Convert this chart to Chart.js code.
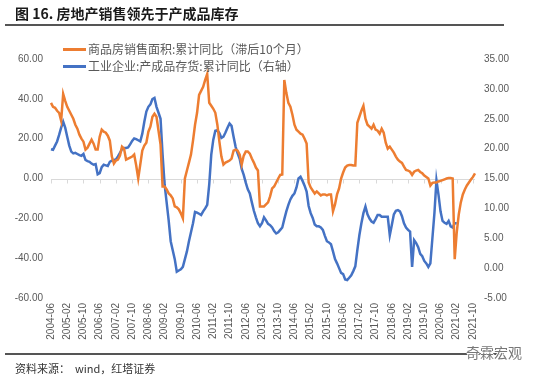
<!DOCTYPE html>
<html>
<head>
<meta charset="utf-8">
<script src="https://cdn.jsdelivr.net/npm/chart.js@4.4.0/dist/chart.umd.min.js"></script>
<style>
  body { margin: 0; background: #fff; }
  #box { position: relative; width: 536px; height: 376px; overflow: hidden; font-family: "Noto Sans CJK SC", "DejaVu Sans", sans-serif; }
  #c { position: absolute; left: 0; top: 0; }
  .title { position: absolute; left: 15px; top: 3px; font-size: 14px; line-height: 20px; font-weight: bold; color: #1a1a1a; white-space: nowrap; }
  .rule { position: absolute; left: 5px; width: 499px; height: 1.5px; background: #555; }
  .leg { position: absolute; left: 63px; font-size: 12px; line-height: 16px; color: #595959; white-space: nowrap; }
  .leg i { display: inline-block; width: 23px; height: 3px; vertical-align: middle; margin-right: 2px; margin-top: -2px; }
  .src { position: absolute; left: 15px; top: 360px; font-size: 11px; line-height: 16px; color: #333; white-space: nowrap; }
  .mark { position: absolute; left: 466px; top: 343px; font-size: 14px; line-height: 18px; color: #777; white-space: nowrap;
          text-shadow: 1px 0 #fff, -1px 0 #fff, 0 1px #fff, 0 -1px #fff; }
</style>
</head>
<body>
<div id="box">
  <canvas id="c" width="536" height="376"></canvas>
  <div class="title">图 16. 房地产销售领先于产成品库存</div>
  <div class="rule" style="top:24px"></div>
  <div class="leg" style="top:41px"><i style="background:#ED7D31"></i>商品房销售面积:累计同比（滞后10个月）</div>
  <div class="leg" style="top:58px"><i style="background:#4472C4"></i>工业企业:产成品存货:累计同比（右轴）</div>
  <div class="rule" style="top:353px"></div>
  <div class="src">资料来源：&nbsp; wind，红塔证券</div>
  <div class="mark">奇霖宏观</div>
</div>
<script>
// 月份从 2004-06 开始，共 210 个月
const startYear = 2004;
const startMonth = 6;
const monthCount = 210;

const tickLabels = ['2004-06', '2005-02', '2005-10', '2006-06', '2007-02', '2007-10', '2008-06',
  '2009-02', '2009-10', '2010-06', '2011-02', '2011-10', '2012-06', '2013-02', '2013-10',
  '2014-06', '2015-02', '2015-10', '2016-06', '2017-02', '2017-10', '2018-06', '2019-02',
  '2019-10', '2020-06', '2021-02', '2021-10'];

const months = [];
for (let i = 0; i < monthCount; i++) {
  const t = startMonth - 1 + i;
  const y = startYear + Math.floor(t / 12);
  const m = (t % 12) + 1;
  months.push(y + '-' + String(m).padStart(2, '0'));
}

// 商品房销售面积:累计同比（滞后10个月），左轴
const salesYoY = [
  38, 36, 35.5, 34, 33, 29, 42.5, 39, 36, 34,
  32, 30, 27, 25, 22, 20, 18.5, 14.5, 15.5, 17.5,
  19.5, 17.5, 14.5, 14.5, 21, 24.5, 23.5, 23, 21.5, 19,
  11, 7.5, 9, 9.5, 11.5, 16, 15, 9.5, 10, 10.5,
  11, 12, 6.5, 0, 7, 14, 16.5, 18, 23.5, 26,
  31, 32.5, 31, 24, 17, -4, -4, -5.5, -7.5, -8.5,
  -10, -14, -14.5, -15.5, -17.5, -20, 0, 4, 8, 12,
  19, 27, 33, 42, 44, 46, 49.5, 52.5, 38, 36.5,
  35, 33, 27, 18.5, 11, 7, 8, 8.5, 9, 10,
  14, 14.5, 14, 12, 7, 11.5, 13.5, 13.5, 12.5, 10,
  8, 5.5, 4, -14, -14, -14, -13, -12, -9, -5,
  -4, -2, 0, 1.8, 2, 49.5, 43, 38, 36, 32,
  27, 24.5, 23.5, 22.5, 22, 20, 17.5, -2, -4.5, -6,
  -7.5, -6.5, -7.5, -8.5, -8, -8, -8.5, -8, -8, -16.5,
  -13, -8, -5, 0, 3, 5.5, 6.5, 6.8, 6.8, 6.5,
  6.5, 28, 31, 34, 36.5, 30, 27, 26, 25, 27,
  24.5, 24, 22.5, 25, 23, 18, 15, 16, 14.5, 13,
  11, 9.5, 8.5, 7.8, 6, 4.3, 4, 3.4, 1.8, 3.4,
  4, 4.3, 3.3, 2.6, 1.5, 0.8, 0, -3.5, -2.2, -2,
  -2, -1.5, -1.2, -0.8, -0.4, 0, 0.2, 0.2, 0, -40.5,
  -27, -18, -12, -8, -5.5, -3.5, -2, -0.5, 0.8, 2.6
];

// 工业企业:产成品存货:累计同比，右轴
const inventoryYoY = [
  19.9, 19.8, 20.5, 21.2, 22.3, 23.5, 24.5, 23.5, 22, 20.5,
  19.5, 19.2, 19.3, 19.1, 18.9, 18.8, 19.1, 18.1, 17.9, 17.8,
  17.5, 17.3, 17.4, 15.7, 15.9, 16.9, 17.3, 17.2, 17.1, 17.8,
  18, 18.1, 18.2, 18.7, 19.3, 19.9, 20.1, 20.1, 20.2, 20.7,
  21.3, 21.7, 21.6, 21.4, 21.2, 22.5, 24.5, 26.2, 27, 27.4,
  28.3, 28.5, 27, 26, 25, 19, 14, 11, 8, 4.5,
  3, 1.5, -0.6, -0.4, -0.2, 0.2, 1.5, 2.8, 4.5, 6,
  7.5, 9.4, 9.3, 9.1, 8.9, 9.5, 10, 10.6, 14, 19,
  21.5, 23, 23.1, 22.6, 21.8, 22, 22.7, 23.5, 24.2, 23.8,
  22, 20.3, 19.2, 18.3, 16.6, 15.6, 14.3, 13.2, 12.5, 11,
  9.6, 8.5, 7.5, 7, 7.5, 8.5, 8, 7.4, 7.2, 6.8,
  6.2, 5.8, 6, 6.4, 6.8, 8.2, 9.5, 10.6, 11.5, 12.1,
  12.5, 13.5, 15, 15.3, 14.6, 13.8, 12.8, 10.4, 9.2, 8.4,
  7.3, 7, 7, 6.8, 6.4, 5.4, 4.5, 4.3, 4, 2.8,
  1.5, 0.8, 0, -0.8, -1, -1.9, -2, -1.6, -1.2, -0.5,
  0.3, 3, 5.5, 7.5, 9.2, 10.3, 9, 8.3, 7.8, 7.6,
  8.2, 8.9, 8.9, 8.6, 8.6, 8.6, 8.6, 5.5, 7.2, 9,
  9.6, 9.7, 9.5, 8.7, 7.5, 6.8, 6.4, 6.1, 0.2, 4.7,
  4.2, 3.5, 2.4, 2, 1.2, 0.8, 0.2, 0.8, 5, 9.2,
  14.7, 12.3, 9.5, 7.9, 7.6, 7.4, 7.9, 7, 6.8, 7.5,
  7.5
];

const axisColor = '#595959';

// 零轴线和刻度
const zeroLine = {
  id: 'zeroLine',
  beforeDatasetsDraw(chart) {
    const { ctx, chartArea, scales } = chart;
    const y0 = Math.round(scales.y.getPixelForValue(0)) + 0.5;
    ctx.save();
    ctx.strokeStyle = '#d9d9d9';
    ctx.lineWidth = 1;
    ctx.beginPath();
    ctx.moveTo(chartArea.left, y0);
    ctx.lineTo(chartArea.right, y0);
    months.forEach((m, i) => {
      if (tickLabels.includes(m)) {
        const x = Math.round(scales.x.getPixelForValue(i)) + 0.5;
        ctx.moveTo(x, y0);
        ctx.lineTo(x, y0 + 4);
      }
    });
    ctx.stroke();
    ctx.restore();
  }
};

new Chart(document.getElementById('c'), {
  type: 'line',
  data: {
    labels: months,
    datasets: [
      {
        label: '商品房销售面积:累计同比（滞后10个月）',
        data: salesYoY,
        yAxisID: 'y',
        borderColor: '#ED7D31',
        borderWidth: 2.5,
        pointRadius: 0,
        tension: 0
      },
      {
        label: '工业企业:产成品存货:累计同比（右轴）',
        data: inventoryYoY,
        yAxisID: 'y1',
        borderColor: '#4472C4',
        borderWidth: 2.5,
        pointRadius: 0,
        tension: 0
      }
    ]
  },
  options: {
    responsive: false,
    animation: false,
    layout: { padding: { top: 59, left: 0, right: 0, bottom: 0 } },
    plugins: {
      legend: { display: false },
      tooltip: { enabled: false }
    },
    scales: {
      x: {
        grid: { display: false, drawTicks: false },
        border: { display: false },
        afterFit: s => { s.height = 78; },
        ticks: {
          autoSkip: false,
          minRotation: 90,
          maxRotation: 90,
          padding: 5,
          color: axisColor,
          font: { family: 'Liberation Sans', size: 10 },
          callback: (v, i) => tickLabels.includes(months[i]) ? months[i] : ''
        }
      },
      y: {
        position: 'left',
        min: -60,
        max: 60,
        grid: { display: false, drawTicks: false },
        border: { display: false },
        afterFit: s => { s.width = 51; },
        ticks: {
          stepSize: 20,
          padding: 8,
          color: axisColor,
          font: { family: 'Liberation Sans', size: 10 },
          callback: v => v.toFixed(2)
        }
      },
      y1: {
        position: 'right',
        min: -5,
        max: 35,
        grid: { display: false, drawTicks: false },
        border: { display: false },
        afterFit: s => { s.width = 61; },
        ticks: {
          stepSize: 5,
          padding: 9,
          color: axisColor,
          font: { family: 'Liberation Sans', size: 10 },
          callback: v => v.toFixed(2)
        }
      }
    }
  },
  plugins: [zeroLine]
});
</script>
</body>
</html>
